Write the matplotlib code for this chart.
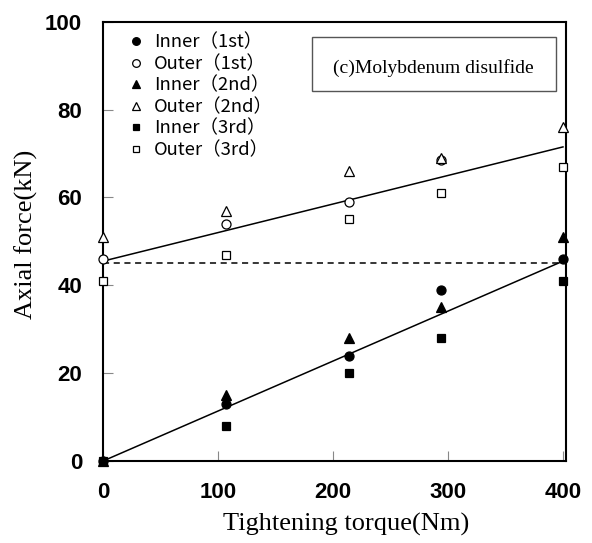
import matplotlib
matplotlib.use("Agg")
import matplotlib.pyplot as plt
from matplotlib.patches import Rectangle

# Tightening torque (Nm) at each measurement step
torque = [0, 107, 214, 294, 400]

# Axial force (kN) measured on the inner and outer sides for each of three tests
inner_1st = [0, 13, 24, 39, 46]
outer_1st = [46, 54, 59, 68.5]
inner_2nd = [0, 15, 28, 35, 51]
outer_2nd = [51, 57, 66, 69, 76]
inner_3rd = [0, 8, 20, 28, 41]
outer_3rd = [41, 47, 55, 61, 67]

# Fitted trend lines (start and end force values) and the reference level
inner_fit = [0, 45.5]
outer_fit = [45.5, 71.5]
fit_torque = [0, 400]
ref_level = 45

x_ticks = [0, 100, 200, 300, 400]
y_ticks = [0, 20, 40, 60, 80, 100]
note = "(c)Molybdenum disulfide"

series = [
    ("Inner（1st）", inner_1st, "o", "black", 6.5),
    ("Outer（1st）", outer_1st, "o", "white", 6.5),
    ("Inner（2nd）", inner_2nd, "^", "black", 7.2),
    ("Outer（2nd）", outer_2nd, "^", "white", 7.2),
    ("Inner（3rd）", inner_3rd, "s", "black", 5.3),
    ("Outer（3rd）", outer_3rd, "s", "white", 5.3),
]

fig = plt.figure(figsize=(5.92, 5.43), dpi=100)
ax = fig.add_axes([0.174, 0.151, 0.782, 0.809])

serif = ["Liberation Serif", "DejaVu Serif"]
gothic = ["Noto Sans CJK JP", "DejaVu Sans"]

ax.plot(fit_torque, inner_fit, color="black", lw=1.1, zorder=2)
ax.plot(fit_torque, outer_fit, color="black", lw=1.1, zorder=2)
ax.plot(fit_torque, [ref_level, ref_level], color="black", lw=1.1,
        ls=(0, (4, 3)), zorder=2)

for label, vals, m, fc, ms in series:
    ax.plot(torque[:len(vals)], vals, ls="none", marker=m, markersize=ms,
            markerfacecolor=fc, markeredgecolor="black", markeredgewidth=0.9,
            label=label, zorder=3, clip_on=False)

ax.set_xlim(0, 402.6)
ax.set_ylim(0, 99.5)
ax.set_xticks(x_ticks)
ax.set_yticks(y_ticks)
ax.tick_params(direction="in", length=7, width=0.8, color="#888888",
               labelsize=16, pad=15)
for lab in ax.get_xticklabels() + ax.get_yticklabels():
    lab.set_fontweight("bold")
    lab.set_family("Liberation Sans")
for sp in ax.spines.values():
    sp.set_linewidth(1.5)

ax.set_xlabel("Tightening torque(Nm)", family=serif, fontsize=19, labelpad=7)
ax.set_ylabel("Axial force(kN)", family=serif, fontsize=19, labelpad=5)
ax.xaxis.label.set_x(0.525)
ax.yaxis.label.set_y(0.517)

leg = ax.legend(loc="upper left", bbox_to_anchor=(0.035, 0.99), frameon=False,
                prop={"family": gothic, "size": 13.3}, handlelength=1.0,
                handletextpad=0.5, labelspacing=0.19, borderaxespad=0,
                markerscale=0.85)

ax.add_patch(Rectangle((0.451, 0.843), 0.527, 0.123, transform=ax.transAxes,
                       facecolor="white", edgecolor="#555555", lw=1.0, zorder=4))
ax.text(0.714, 0.895, note, transform=ax.transAxes, ha="center", va="center",
        family=serif, fontsize=14, zorder=5)

fig.savefig("out.png", dpi=100)
